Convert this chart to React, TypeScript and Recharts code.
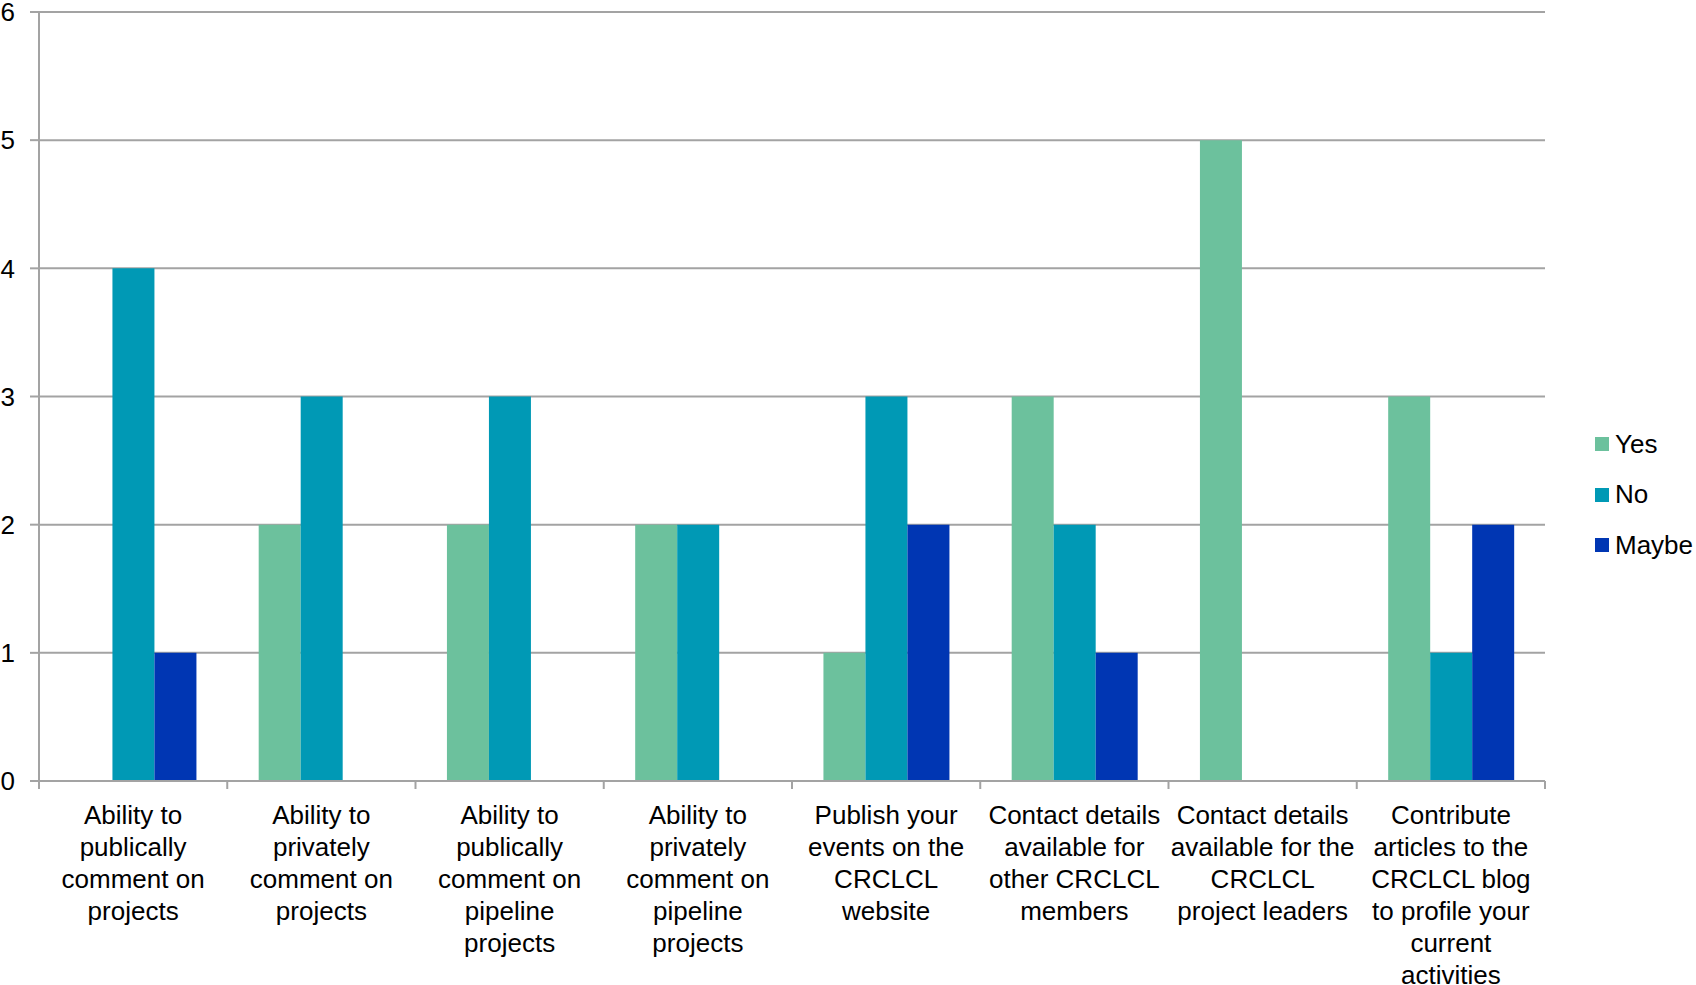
import { BarChart, Bar, XAxis, YAxis, CartesianGrid, Legend } from 'recharts';

const CATEGORIES = [
  'Ability to\npublically\ncomment on\nprojects',
  'Ability to\nprivately\ncomment on\nprojects',
  'Ability to\npublically\ncomment on\npipeline\nprojects',
  'Ability to\nprivately\ncomment on\npipeline\nprojects',
  'Publish your\nevents on the\nCRCLCL\nwebsite',
  'Contact details\navailable for\nother CRCLCL\nmembers',
  'Contact details\navailable for the\nCRCLCL\nproject leaders',
  'Contribute\narticles to the\nCRCLCL blog\nto profile your\ncurrent\nactivities',
];
const YES = [0, 2, 2, 2, 1, 3, 5, 3];
const NO = [4, 3, 3, 2, 3, 2, 0, 1];
const MAYBE = [1, 0, 0, 0, 2, 1, 0, 2];
const Y_TICKS = [0, 1, 2, 3, 4, 5, 6];

const SERIES = [
  { key: 'Yes', values: YES, color: '#6cc19d' },
  { key: 'No', values: NO, color: '#0099b5' },
  { key: 'Maybe', values: MAYBE, color: '#0036b3' },
];

const data = CATEGORIES.map((name, i) => {
  const row: Record<string, string | number> = { name };
  SERIES.forEach((s) => {
    row[s.key] = s.values[i];
  });
  return row;
});

const FONT = '"Liberation Sans", Arial, sans-serif';
const AXIS_GREY = '#a3a3a3';

const CategoryTick = (props: any) => {
  const { x, y, payload, index } = props;
  const lines = String(payload.value).split('\n');
  const half = payload.offset ?? 94;
  return (
    <g>
      <line x1={x - half} x2={x - half} y1={y} y2={y + 8} stroke={AXIS_GREY} strokeWidth={2} />
      {index === CATEGORIES.length - 1 && (
        <line x1={x + half} x2={x + half} y1={y} y2={y + 8} stroke={AXIS_GREY} strokeWidth={2} />
      )}
      <text x={x} y={y + 43} textAnchor="middle" fontSize={26} fontFamily={FONT} fill="#000">
        {lines.map((l, i) => (
          <tspan key={i} x={x} dy={i === 0 ? 0 : 32}>
            {l}
          </tspan>
        ))}
      </text>
    </g>
  );
};

// legend keeps the series order (Yes, No, Maybe) top to bottom
const LegendContent = (props: any) => {
  const items = [...(props.payload || [])].sort(
    (a: any, b: any) =>
      SERIES.findIndex((s) => s.key === a.value) - SERIES.findIndex((s) => s.key === b.value)
  );
  return (
    <div style={{ fontFamily: FONT, fontSize: 26, color: '#000' }}>
      {items.map((it: any) => (
        <div key={it.value} style={{ height: 50.5, display: 'flex', alignItems: 'center' }}>
          <span style={{ width: 14, height: 14, background: it.color, marginRight: 6, display: 'inline-block' }} />
          <span>{it.value}</span>
        </div>
      ))}
    </div>
  );
};

export default function App() {
  return (
    <div>
      <style>{`body { margin: 0; }`}</style>
      <BarChart
        width={1696}
        height={985}
        data={data}
        margin={{ top: 12, right: 151, left: 0, bottom: 0 }}
        barCategoryGap="16.7%"
        barGap={0}
      >
        <CartesianGrid vertical={false} stroke={AXIS_GREY} strokeWidth={2} />
        <XAxis
          dataKey="name"
          interval={0}
          height={204}
          tickSize={0}
          tickMargin={0}
          tickLine={false}
          axisLine={{ stroke: AXIS_GREY, strokeWidth: 2 }}
          tick={<CategoryTick />}
        />
        <YAxis
          domain={[0, 6]}
          ticks={Y_TICKS}
          width={39}
          tickSize={9}
          tickMargin={15}
          interval={0}
          axisLine={{ stroke: AXIS_GREY, strokeWidth: 2 }}
          tickLine={{ stroke: AXIS_GREY, strokeWidth: 2 }}
          tick={{ fontSize: 26, fontFamily: FONT, fill: '#000' }}
        />
        <Legend
          layout="vertical"
          align="center"
          verticalAlign="middle"
          wrapperStyle={{ left: 1595, top: 419, width: 101 }}
          content={<LegendContent />}
        />
        {SERIES.map((s) => (
          <Bar key={s.key} dataKey={s.key} fill={s.color} isAnimationActive={false} />
        ))}
      </BarChart>
    </div>
  );
}
